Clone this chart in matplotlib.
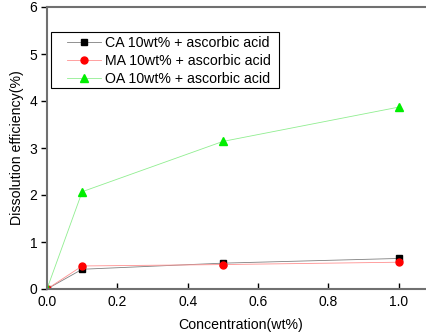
import matplotlib
matplotlib.use('Agg')
import matplotlib.pyplot as plt
from matplotlib.patches import Rectangle

plt.rcParams['font.family'] = ['Liberation Sans', 'DejaVu Sans']

conc = [0.0, 0.1, 0.5, 1.0]
ca = [0.0, 0.42, 0.55, 0.65]
ma = [0.0, 0.49, 0.52, 0.57]
oa = [0.0, 2.07, 3.14, 3.87]

fig = plt.figure(figsize=(4.26, 3.33), dpi=100)
ax = fig.add_axes([47/426, 44/333, 387/426, 282/333])

ax.plot(conc, ca, color='#808080', lw=0.6, marker='s', ms=4.3, mfc='black', mec='black',
        label='CA 10wt% + ascorbic acid')
ax.plot(conc, ma, color='#ff9090', lw=0.6, marker='o', ms=5, mfc='red', mec='red',
        label='MA 10wt% + ascorbic acid')
ax.plot(conc, oa, color='#90ee90', lw=0.6, marker='^', ms=5.5, mfc='#00ee00', mec='#00ee00',
        label='OA 10wt% + ascorbic acid')

ax.set_xlim(0, 1.1)
ax.set_ylim(0, 6)
ax.set_xticks([0.0, 0.2, 0.4, 0.6, 0.8, 1.0])
ax.set_xticklabels(['0.0', '0.2', '0.4', '0.6', '0.8', '1.0'])
ax.set_yticks([0, 1, 2, 3, 4, 5, 6])
ax.tick_params(axis='x', direction='in', length=4, width=1, labelsize=10, pad=4)
ax.tick_params(axis='y', direction='out', length=4, width=1, labelsize=10, pad=3)
for s in ax.spines.values():
    s.set_color('#707070')
    s.set_linewidth(1.5)
ax.spines['right'].set_visible(False)

ax.set_xlabel('Concentration(wt%)', fontsize=10.2, labelpad=7)
ax.set_ylabel('Dissolution efficiency(%)', fontsize=10.2, labelpad=4)

# legend box (Origin style, wider left padding)
ax.add_patch(Rectangle((0.0103, 0.713), 0.589, 0.198, transform=ax.transAxes,
                       fill=False, edgecolor='black', lw=0.8, zorder=5))
leg = ax.legend(loc='upper left', bbox_to_anchor=(0.045, 0.906), fontsize=10.2,
                frameon=False, handlelength=2.4, handletextpad=0.25,
                borderpad=0.2, labelspacing=0.28, borderaxespad=0)

fig.savefig('out.png', dpi=100)
